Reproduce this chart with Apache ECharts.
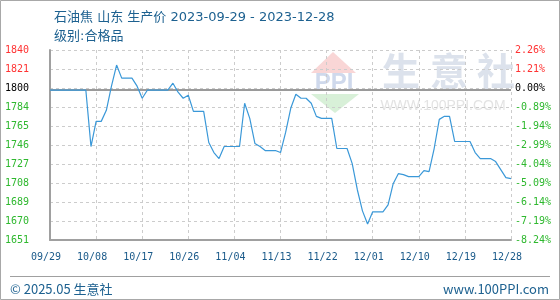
<!DOCTYPE html>
<html><head><meta charset="utf-8">
<script src="https://cdn.jsdelivr.net/npm/echarts@6/dist/echarts.min.js"></script>
<style>html,body{margin:0;padding:0;background:#fff}#c{width:560px;height:300px}</style>
</head><body><div id="c"></div>
<script>
const titleText = '石油焦 山东 生产价 2023-09-29 - 2023-12-28';
const subTitleText = '级别:合格品';
const footerLeft = '© 2025.05 生意社';
const footerRight = 'www.100PPI.com';

const dates = [
 '09/29','09/30',
 '10/01','10/02','10/03','10/04','10/05','10/06','10/07','10/08','10/09','10/10',
 '10/11','10/12','10/13','10/14','10/15','10/16','10/17','10/18','10/19','10/20',
 '10/21','10/22','10/23','10/24','10/25','10/26','10/27','10/28','10/29','10/30','10/31',
 '11/01','11/02','11/03','11/04','11/05','11/06','11/07','11/08','11/09','11/10',
 '11/11','11/12','11/13','11/14','11/15','11/16','11/17','11/18','11/19','11/20',
 '11/21','11/22','11/23','11/24','11/25','11/26','11/27','11/28','11/29','11/30',
 '12/01','12/02','12/03','12/04','12/05','12/06','12/07','12/08','12/09','12/10',
 '12/11','12/12','12/13','12/14','12/15','12/16','12/17','12/18','12/19','12/20',
 '12/21','12/22','12/23','12/24','12/25','12/26','12/27','12/28'
];
const prices = [
 1800,1800,1800,1800,1800,1800,1800,1800,1744,1769,
 1769,1780,1804,1825,1812,1812,1812,1804,1792,1800,
 1800,1800,1800,1800,1807,1798,1792,1795,1779,1779,
 1779,1748,1738,1732,1744,1744,1744,1744,1787,1772,
 1747,1744,1740,1740,1740,1738,1758,1782,1796,1792,
 1792,1787,1774,1772,1772,1772,1742,1742,1742,1727,
 1701,1680,1667,1679,1679,1679,1686,1707,1717,1716,
 1714,1714,1714,1720,1719,1742,1771,1774,1774,1749,
 1749,1749,1749,1738,1732,1732,1732,1729,1721,1713,
 1712
];
const yMin = 1651, yMax = 1840;
const basePrice = 1800;
// bottom to top
const leftTickLabels = ['1651','1670','1689','1708','1727','1746','1765','1784','1800','1821','1840'];
const rightTickLabels = ['-8.24%','-7.19%','-6.14%','-5.09%','-4.04%','-2.99%','-1.94%','-0.89%','0.00%','1.21%','2.26%'];
const baseTickIndex = 8;

const nT = leftTickLabels.length - 1;
const step = (yMax - yMin) / nT;
const tickValues = leftTickLabels.map((_, i) => yMin + step * i);
const idxOf = v => Math.round((parseFloat(v) - yMin) / step);
const colorOf = v => { const k = idxOf(v); return k > baseTickIndex ? '#ff3333' : (k === baseTickIndex ? '#000000' : '#2eb82e'); };

const MONO = '"DejaVu Sans Mono", monospace';
const CJK = '"Noto Sans CJK SC", sans-serif';
const TITLEF = '"DejaVu Sans", "Noto Sans CJK SC", sans-serif';
const chart = echarts.init(document.getElementById('c'), null, {renderer: 'canvas'});
chart.setOption({
  animation: false,
  backgroundColor: '#ffffff',
  title: [
    {text: titleText, left: 49, top: 6, textStyle: {fontSize: 13, fontWeight: 'normal', color: '#1d6190', fontFamily: TITLEF}},
    {text: subTitleText, left: 49, top: 25, textStyle: {fontSize: 13, fontWeight: 'normal', color: '#1d6190', fontFamily: TITLEF}}
  ],
  grid: {left: 50, right: 49, top: 50, bottom: 60, containLabel: false},
  xAxis: {
    type: 'category', data: dates, boundaryGap: false,
    axisLine: {show: true, lineStyle: {color: '#a0a0a0', width: 2}},
    axisTick: {show: false},
    axisLabel: {interval: 8, color: '#1a5a8a', fontFamily: MONO, fontSize: 10, margin: 12, padding: [0, 8, 0, 0]},
    splitLine: {show: true, interval: 8, lineStyle: {color: '#cccccc', type: [3, 3], width: 1}}
  },
  yAxis: [
    {
      type: 'value', min: yMin, max: yMax, position: 'left',
      axisLine: {show: true, lineStyle: {color: '#a0a0a0', width: 2}},
      axisTick: {show: false, customValues: tickValues},
      axisLabel: {customValues: tickValues, showMinLabel: true, showMaxLabel: true,
        formatter: v => leftTickLabels[idxOf(v)], color: v => colorOf(v),
        fontFamily: MONO, fontSize: 10, margin: 21},
      splitLine: {show: true, lineStyle: {color: '#cccccc', type: [3, 3], width: 1}}
    },
    {
      type: 'value', min: yMin, max: yMax, position: 'right',
      axisLine: {show: false},
      axisTick: {show: false, customValues: tickValues},
      axisLabel: {customValues: tickValues, showMinLabel: true, showMaxLabel: true,
        formatter: v => rightTickLabels[idxOf(v)], color: v => colorOf(v),
        fontFamily: MONO, fontSize: 10, margin: 4},
      splitLine: {show: false}
    }
  ],
  graphic: [
    {type: 'rect', shape: {x: 0.5, y: 0.5, width: 559, height: 299}, style: {fill: 'none', stroke: '#a8a8a8', lineWidth: 1}, silent: true, z: 0},
    {type: 'line', shape: {x1: 10, y1: 276.5, x2: 550, y2: 276.5}, style: {stroke: '#a0a0a0', lineWidth: 1}, silent: true},
    {type: 'text', x: 10, y: 289, style: {text: footerLeft, font: '13px ' + CJK, fill: '#1d6190', verticalAlign: 'middle', align: 'left'}, silent: true},
    {type: 'text', x: 549, y: 289, style: {text: footerRight, font: '13px ' + CJK, fill: '#1d6190', verticalAlign: 'middle', align: 'right'}, silent: true},
    {type: 'polygon', shape: {points: [[333, 52], [311, 73], [356, 73]]}, style: {fill: '#f9d6d6'}, silent: true, z: -1},
    {type: 'text', x: 334, y: 83, style: {text: 'PPI', font: 'bold 24px "Liberation Sans"', fill: '#cfd9ec', align: 'center', verticalAlign: 'middle'}, silent: true, z: -1},
    {type: 'polygon', shape: {points: [[311, 94], [359, 94], [335, 113]]}, style: {fill: '#d8f0d8'}, silent: true, z: -1},
    {type: 'text', x: 401, y: 71, style: {text: '生', font: 'bold 38px ' + CJK, fill: '#dce2ec', align: 'center', verticalAlign: 'middle'}, silent: true, z: -1},
    {type: 'text', x: 449, y: 71, style: {text: '意', font: 'bold 38px ' + CJK, fill: '#dce2ec', align: 'center', verticalAlign: 'middle'}, silent: true, z: -1},
    {type: 'text', x: 496, y: 71, style: {text: '社', font: 'bold 38px ' + CJK, fill: '#dce2ec', align: 'center', verticalAlign: 'middle'}, silent: true, z: -1},
    {type: 'text', x: 443, y: 106, style: {text: 'WWW.100PPI.COM', font: '14px "Liberation Sans"', fill: '#e3e3e3', align: 'center', verticalAlign: 'middle'}, silent: true, z: -1}
  ],
  series: [{
    type: 'line', data: prices, yAxisIndex: 0, symbol: 'none', showSymbol: false,
    lineStyle: {color: '#3a98d8', width: 1.2}, z: 5,
    markLine: {silent: true, symbol: 'none', label: {show: false}, z: 2,
      lineStyle: {color: '#9a9a9a', width: 2, type: 'solid'},
      data: [{yAxis: basePrice}]}
  }]
});
</script></body></html>
